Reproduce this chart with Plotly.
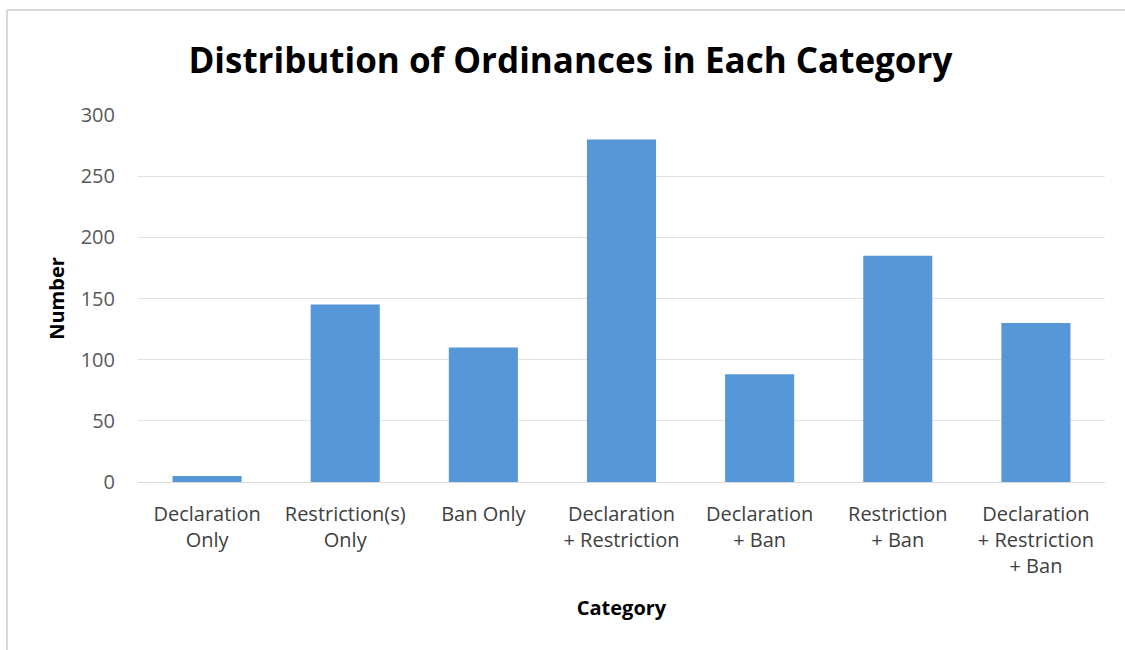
import plotly.graph_objects as go

categories = ["Declaration<br>Only", "Restriction(s)<br>Only", "Ban Only",
              "Declaration<br>+ Restriction", "Declaration<br>+ Ban",
              "Restriction<br>+ Ban", "Declaration<br>+ Restriction<br>+ Ban"]
values = [5, 145, 110, 280, 88, 185, 130]
y_ticks = [0, 50, 100, 150, 200, 250, 300]

FONT = "Open Sans"

fig = go.Figure(go.Bar(
    x=list(range(len(categories))), y=values, width=0.5,
    marker=dict(color="#5597d7", line=dict(width=0)),
))

fig.update_layout(
    width=1125, height=650,
    margin=dict(l=138, r=20, t=115, b=168),
    paper_bgcolor="white", plot_bgcolor="white",
    showlegend=False,
    font=dict(family=FONT, color="#404040"),
    title=dict(text="<b>Distribution of Ordinances in Each Category</b>",
               x=0.507, xanchor="center", y=0.907, yanchor="middle",
               font=dict(size=35, color="#000000", family=FONT)),
    xaxis=dict(tickmode="array", tickvals=list(range(len(categories))),
               ticktext=categories, range=[-0.5, len(categories) - 0.5],
               showgrid=False, showline=False, zeroline=False,
               tickfont=dict(size=20, color="#404040"), ticks="",
               ticklabelstandoff=18,
               title=dict(text="<b>Category</b>", font=dict(size=20, color="#000000"), standoff=22)),
    yaxis=dict(range=[0, 300], tickvals=y_ticks, showgrid=True, gridcolor="#e3e3e3",
               gridwidth=1, zeroline=True, zerolinecolor="#d9d9d9", zerolinewidth=1,
               showline=False, ticks="", tickfont=dict(size=20, color="#595959"),
               ticklabelstandoff=22,
               title=dict(text="<b>Number</b>", font=dict(size=20, color="#000000"), standoff=10)),
    shapes=[
        dict(type="line", xref="paper", yref="paper",
             x0=(7 - 138) / 967, x1=(1125 - 138) / 967,
             y0=(482 - 10) / 367, y1=(482 - 10) / 367,
             line=dict(color="#d9d9d9", width=2)),
        dict(type="line", xref="paper", yref="paper",
             x0=(7 - 138) / 967, x1=(7 - 138) / 967,
             y0=(482 - 10) / 367, y1=(482 - 650) / 367,
             line=dict(color="#d9d9d9", width=2)),
    ],
)

fig.write_html("out.html")
